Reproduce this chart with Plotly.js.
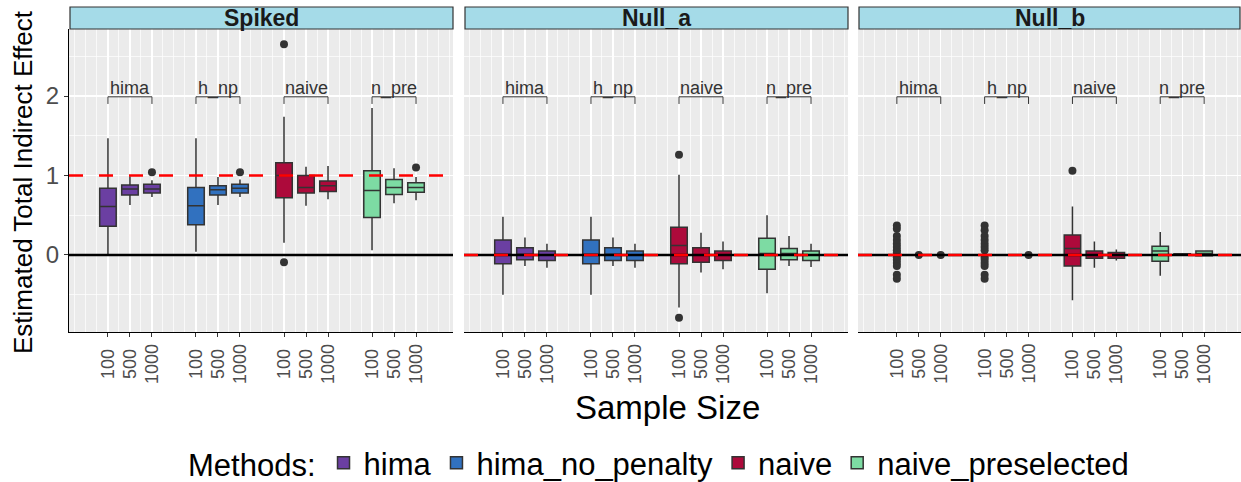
<!DOCTYPE html>
<html><head><meta charset="utf-8">
<script src="https://cdn.plot.ly/plotly-3.0.1.min.js"></script>
<style>body{margin:0;background:#fff}</style>
</head><body><div id="chart" style="width:1241px;height:482px"></div>
<script>
// ---------------- data ----------------
const panels = ["Spiked", "Null_a", "Null_b"];
const methods = ["hima", "hima_no_penalty", "naive", "naive_preselected"];
const methodShort = ["hima", "h_np", "naive", "n_pre"];
const sampleSizes = ["100", "500", "1000"];
const methodColors = ["#6b3fa2", "#3171bf", "#ad0a3b", "#7ddba3"];
const truthLine = [1, 0, 0];

// order: hima(100,500,1000), h_np(...), naive(...), n_pre(...)
const spiked_lo  = [0.00, 0.63, 0.73,  0.04, 0.63, 0.73,  0.155, 0.62, 0.70,  0.06, 0.65, 0.69];
const spiked_q1  = [0.36, 0.755, 0.78, 0.38, 0.755, 0.78, 0.72, 0.78, 0.80,   0.47, 0.76, 0.79];
const spiked_med = [0.61, 0.83, 0.83,  0.62, 0.82, 0.84,  1.00, 0.85, 0.87,   0.81, 0.85, 0.85];
const spiked_q3  = [0.84, 0.88, 0.89,  0.85, 0.87, 0.89,  1.16, 1.00, 0.93,   1.06, 0.95, 0.91];
const spiked_hi  = [1.47, 0.99, 0.94,  1.47, 0.98, 0.95,  1.74, 1.11, 1.12,   1.85, 1.09, 0.98];
const spiked_outIdx = [2, 5, 6, 6, 11];
const spiked_outVal = [1.04, 1.04, 2.65, -0.09, 1.10];

const nulla_lo  = [-0.50, -0.14, -0.16, -0.50, -0.14, -0.16, -0.66, -0.22, -0.18, -0.48, -0.14, -0.15];
const nulla_q1  = [-0.11, -0.06, -0.07, -0.11, -0.07, -0.07, -0.11, -0.09, -0.07, -0.18, -0.06, -0.07];
const nulla_med = [0.01, 0.01, 0.00,    0.01, 0.01, 0.00,    0.12, 0.00, 0.00,    0.02, 0.02, 0.00];
const nulla_q3  = [0.19, 0.09, 0.05,    0.19, 0.09, 0.05,    0.35, 0.09, 0.05,    0.21, 0.08, 0.05];
const nulla_hi  = [0.48, 0.22, 0.14,    0.48, 0.22, 0.14,    1.01, 0.28, 0.17,    0.50, 0.24, 0.14];
const nulla_outIdx = [6, 6];
const nulla_outVal = [1.26, -0.79];

const nullb_lo  = [0, 0, 0,  0, 0, 0,  -0.57, -0.16, -0.07,  -0.26, 0.00, -0.01];
const nullb_q1  = [0, 0, 0,  0, 0, 0,  -0.14, -0.04, -0.04,  -0.08, 0.00, -0.01];
const nullb_med = [0, 0, 0,  0, 0, 0,   0.08,  0.00,  0.00,   0.05, 0.005, 0.02];
const nullb_q3  = [0, 0, 0,  0, 0, 0,   0.25,  0.05,  0.03,   0.11, 0.015, 0.05];
const nullb_hi  = [0, 0, 0,  0, 0, 0,   0.61,  0.17,  0.07,   0.29, 0.02, 0.06];
const nullb_outIdx = [0,0,0,0,0,0,0,0,0,0,0,0,0,0, 1, 2, 3,3,3,3,3,3,3,3,3,3,3,3,3, 5, 6];
const nullb_outVal = [0.37,0.33,0.24,0.19,0.14,0.10,0.06,0.03,-0.03,-0.06,-0.10,-0.14,-0.25,-0.30,
                      0.00, 0.00,
                      0.37,0.31,0.24,0.19,0.14,0.10,0.06,-0.03,-0.06,-0.10,-0.14,-0.25,-0.30,
                      0.00, 1.06];

const stats = [
  {lo: spiked_lo, q1: spiked_q1, med: spiked_med, q3: spiked_q3, hi: spiked_hi, oi: spiked_outIdx, ov: spiked_outVal},
  {lo: nulla_lo,  q1: nulla_q1,  med: nulla_med,  q3: nulla_q3,  hi: nulla_hi,  oi: nulla_outIdx,  ov: nulla_outVal},
  {lo: nullb_lo,  q1: nullb_q1,  med: nullb_med,  q3: nullb_q3,  hi: nullb_hi,  oi: nullb_outIdx,  ov: nullb_outVal}
];

// ---------------- layout helpers ----------------
const W = 1241, H = 482;
const px = v => v / W, py = v => 1 - v / H;
const domains = [[69, 453], [464, 848], [858, 1241]];
const xRange = [-1.77, 15.68];
const yRange = [-0.969, 2.843];
const slot = (g, s) => 4 * g + s;
const slotList = [];
methods.forEach((m, g) => sampleSizes.forEach((s, k) => slotList.push(slot(g, k))));

const traces = [];
const shapes = [];
const annotations = [];
const layout = {
  width: W, height: H,
  margin: {l: 0, r: 0, t: 0, b: 0, autoexpand: false},
  paper_bgcolor: "#ffffff",
  plot_bgcolor: "#ebebeb",
  boxmode: "overlay",
  font: {family: "Liberation Sans, Arial, sans-serif", color: "#000"},
  showlegend: true,
  legend: {
    orientation: "h", x: px(186), xanchor: "left", y: py(463), yanchor: "middle",
    title: {text: "Methods:", side: "left", font: {size: 31, color: "#000"}},
    font: {size: 31, color: "#000"},
    itemwidth: 30, tracegroupgap: 0, bgcolor: "rgba(0,0,0,0)"
  }
};

panels.forEach((pname, p) => {
  const xa = p === 0 ? "x" : "x" + (p + 1);
  const ya = p === 0 ? "y" : "y" + (p + 1);
  const xkey = p === 0 ? "xaxis" : "xaxis" + (p + 1);
  const ykey = p === 0 ? "yaxis" : "yaxis" + (p + 1);
  layout[xkey] = {
    domain: [px(domains[p][0]), Math.min(1, px(domains[p][1]))],
    anchor: ya, range: xRange, zeroline: false,
    tickmode: "array", tickvals: slotList, ticktext: slotList.map(() => ""),
    showticklabels: false, ticks: "outside", ticklen: 4, tickwidth: 1, tickcolor: "#333",
    showline: true, linecolor: "#000", linewidth: 1.2,
    showgrid: true, gridcolor: "#ffffff", gridwidth: 1.3,
    minor: {tickmode: "linear", tick0: 0, dtick: 0.5, showgrid: true, gridcolor: "#ffffff", gridwidth: 0.7, ticks: ""}
  };
  layout[ykey] = {
    domain: [py(332), py(29)], anchor: xa, range: yRange, zeroline: false,
    tickmode: "array", tickvals: [0, 1, 2], ticktext: ["0", "1", "2"],
    showticklabels: p === 0, ticks: p === 0 ? "outside" : "", ticklen: 4, tickcolor: "#333",
    tickfont: {size: 24, color: "#4d4d4d"},
    showline: p === 0, linecolor: "#000", linewidth: 1.2,
    showgrid: true, gridcolor: "#ffffff", gridwidth: 1.3,
    minor: {tickmode: "linear", tick0: 0.5, dtick: 1, showgrid: true, gridcolor: "#ffffff", gridwidth: 0.7, ticks: ""}
  };
  if (p > 0) layout[ykey].matches = "y";

  const st = stats[p];
  methods.forEach((m, g) => {
    const idx = [0, 1, 2].map(k => g * 3 + k);
    traces.push({
      type: "box", xaxis: xa, yaxis: ya, name: m, legendgroup: m, showlegend: p === 0,
      x: idx.map(i => slotList[i]),
      lowerfence: idx.map(i => st.lo[i]), q1: idx.map(i => st.q1[i]),
      median: idx.map(i => st.med[i]), q3: idx.map(i => st.q3[i]),
      upperfence: idx.map(i => st.hi[i]),
      width: 0.75, whiskerwidth: 0, boxpoints: false,
      fillcolor: methodColors[g], line: {color: "#333333", width: 1.5},
      hoverinfo: "skip"
    });
  });
  traces.push({
    type: "scatter", mode: "markers", xaxis: xa, yaxis: ya, showlegend: false,
    x: st.oi.map(i => slotList[i]), y: st.ov,
    marker: {color: "#333333", size: 8}, hoverinfo: "skip"
  });

  shapes.push({type: "line", xref: xa + " domain", yref: ya, x0: 0, x1: 1, y0: 0, y1: 0,
               line: {color: "#000", width: 2.4}, layer: "above"});
  shapes.push({type: "line", xref: xa + " domain", yref: ya, x0: 0, x1: 1, y0: truthLine[p], y1: truthLine[p],
               line: {color: "#ff0000", width: 2.6, dash: "14px,16px"}, layer: "above"});

  shapes.push({type: "rect", xref: "paper", yref: "paper",
               x0: px(domains[p][0] + 1), x1: Math.min(px(domains[p][1]), 1 - px(1)), y0: py(29), y1: py(7),
               fillcolor: "#a5dbe8", line: {color: "#333", width: 1.2}, layer: "above"});
  annotations.push({xref: "paper", yref: "paper", x: px((domains[p][0] + domains[p][1]) / 2), y: py(18),
                    text: "<b>" + pname + "</b>", showarrow: false, xanchor: "center", yanchor: "middle",
                    font: {size: 23, color: "#1a1a1a"}});

  methodShort.forEach((lab, g) => {
    const a = slot(g, 0), b = slot(g, 2);
    shapes.push({type: "path", xref: xa, yref: ya,
                 path: `M ${a},1.9 L ${a},1.99 L ${b},1.99 L ${b},1.9`,
                 line: {color: "#333", width: 1}, layer: "above"});
    annotations.push({xref: xa, yref: ya, x: (a + b) / 2, y: 2.1, text: lab, showarrow: false,
                      xanchor: "center", yanchor: "middle", font: {size: 18, color: "#333"}});
    sampleSizes.forEach((s, k) => {
      annotations.push({xref: xa, yref: "paper", x: slot(g, k), y: py(364), text: s, showarrow: false,
                        textangle: -90, xanchor: "center", yanchor: "middle",
                        font: {size: 18, color: "#4d4d4d"}});
    });
  });
});

annotations.push({xref: "paper", yref: "paper", x: px(667), y: py(407), text: "Sample Size",
                  showarrow: false, xanchor: "center", yanchor: "middle", font: {size: 33, color: "#000"}});
annotations.push({xref: "paper", yref: "paper", x: px(23), y: py(182), text: "Estimated Total Indirect Effect",
                  showarrow: false, textangle: -90, xanchor: "center", yanchor: "middle",
                  font: {size: 26, color: "#000"}});

layout.shapes = shapes;
layout.annotations = annotations;

Plotly.newPlot("chart", traces, layout, {displayModeBar: false, staticPlot: true});
</script>
</body></html>
